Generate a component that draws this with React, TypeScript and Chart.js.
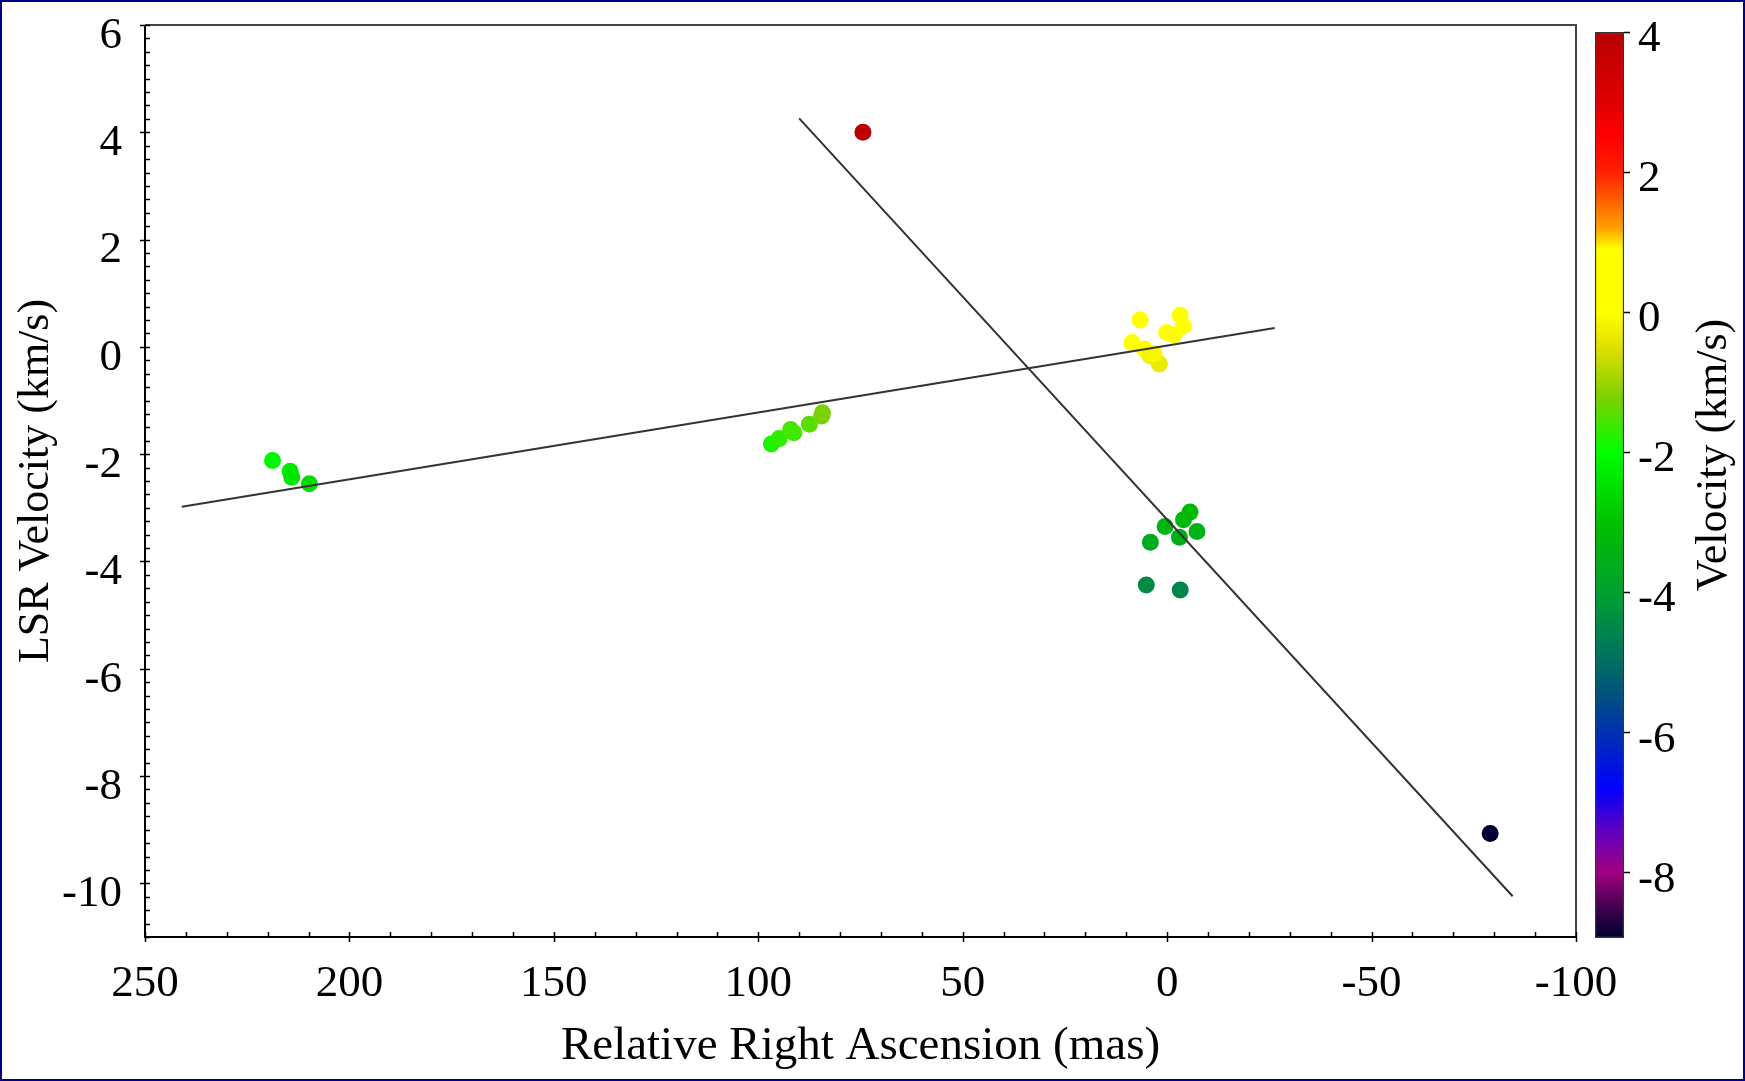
import React, { useEffect, useRef } from 'react';
import { Chart, registerables } from 'chart.js';

Chart.register(...registerables);

// ---------- data ----------
// Relative right ascension (mas) of each maser spot
const raOffset: number[] = [
  218.8, 214.5, 214.1, 209.8,
  96.8, 94.9, 92.1, 91.3, 87.5, 84.5, 84.3,
  74.4,
  6.6, -3.2, -4.0, 0.1, -1.7, 8.6, 5.6, 4.2, 1.9, 3.2,
  -5.6, -4.0, 0.5, -7.3, -3.0, 4.1, 5.1, -3.2,
  -79.0,
];
// LSR velocity (km/s) of each spot (also used for its colour)
const lsrVelocity: number[] = [
  -2.12, -2.32, -2.43, -2.55,
  -1.81, -1.71, -1.54, -1.60, -1.44, -1.29, -1.23,
  4.0,
  0.50, 0.59, 0.39, 0.27, 0.22, 0.08, -0.04, -0.17, -0.32, -0.13,
  -3.08, -3.22, -3.35, -3.44, -3.55, -3.64, -4.44, -4.53,
  -9.07,
];
// Fitted lines (end points)
const fitA_x: number[] = [241.0, -26.3];
const fitA_y: number[] = [-2.98, 0.35];
const fitB_x: number[] = [90.0, -84.5];
const fitB_y: number[] = [4.26, -10.24];

// Axis ticks
const xTickValues: number[] = [250, 200, 150, 100, 50, 0, -50, -100];
const yTickValues: number[] = [6, 4, 2, 0, -2, -4, -6, -8, -10];
const cbTickValues: number[] = [4, 2, 0, -2, -4, -6, -8];
const xRange: number[] = [-100, 250];
const yRange: number[] = [-11, 6];
const cbRange: number[] = [-8.93, 4];

// Colour map (velocity -> colour)
const cmapValues: number[] = [-8.93, -8.5, -8.0, -7.4, -6.8, -6.0, -5.5, -4.8, -4.0, -3.0, -2.0, -1.2, -0.5, 0.0, 0.9, 1.2, 1.6, 2.0, 2.5, 3.0, 4.0];
const cmapColors: string[] = ['#000030', '#400050', '#a00080', '#6000c0', '#0000ff', '#0030b0', '#005080', '#007858', '#00a030', '#00c000', '#00ff00', '#80d000', '#e0e000', '#ffff00', '#ffff00', '#ffa000', '#ff6000', '#ff2000', '#ff0000', '#e00000', '#b80000'];

// ---------- helpers ----------
const FONT = "'Liberation Serif', 'Times New Roman', Times, serif";

function hexToRgb(h: string): number[] {
  const n = parseInt(h.slice(1), 16);
  return [(n >> 16) & 255, (n >> 8) & 255, n & 255];
}

function colorFor(v: number): string {
  const last = cmapValues.length - 1;
  if (v <= cmapValues[0]) return cmapColors[0];
  if (v >= cmapValues[last]) return cmapColors[last];
  for (let i = 0; i < last; i++) {
    if (v <= cmapValues[i + 1]) {
      const t = (v - cmapValues[i]) / (cmapValues[i + 1] - cmapValues[i]);
      const a = hexToRgb(cmapColors[i]);
      const b = hexToRgb(cmapColors[i + 1]);
      const c = a.map((av, k) => Math.round(av + (b[k] - av) * t));
      return `rgb(${c[0]},${c[1]},${c[2]})`;
    }
  }
  return cmapColors[last];
}

const framePlugin = {
  id: 'frameTicks',
  afterDraw(chart: any) {
    const { ctx, chartArea: a, scales } = chart;
    const xs = scales.x;
    const ys = scales.y;
    ctx.save();
    ctx.lineWidth = 2;
    ctx.strokeStyle = '#444';
    ctx.beginPath();
    ctx.moveTo(a.left, a.top);
    ctx.lineTo(a.right, a.top);
    ctx.lineTo(a.right, a.bottom);
    ctx.stroke();
    ctx.strokeStyle = '#000';
    ctx.beginPath();
    ctx.moveTo(a.left, a.top);
    ctx.lineTo(a.left, a.bottom);
    ctx.lineTo(a.right, a.bottom);
    ctx.stroke();

    ctx.lineWidth = 1.5;
    ctx.beginPath();
    for (let v = xRange[0]; v <= xRange[1]; v += 10) {
      const px = Math.round(xs.getPixelForValue(v)) + 0.5;
      const major = v % 50 === 0;
      ctx.moveTo(px, a.bottom + (major ? 5 : 0));
      ctx.lineTo(px, a.bottom - 5);
    }
    const n = Math.round((yRange[1] - yRange[0]) / 0.25);
    for (let i = 0; i <= n; i++) {
      const v = yRange[0] + i * 0.25;
      const py = Math.round(ys.getPixelForValue(v)) + 0.5;
      const major = Number.isInteger(v) && v % 2 === 0;
      ctx.moveTo(a.left - (major ? 5 : 0), py);
      ctx.lineTo(a.left + 5, py);
    }
    ctx.stroke();
    ctx.restore();
  },
};

const cbTitlePlugin = {
  id: 'cbTitle',
  afterDraw(chart: any) {
    const { ctx } = chart;
    ctx.save();
    ctx.translate(134, 455);
    ctx.rotate(-Math.PI / 2);
    ctx.font = `44px ${FONT}`;
    ctx.fillStyle = '#000';
    ctx.textAlign = 'center';
    ctx.textBaseline = 'middle';
    ctx.fillText('Velocity (km/s)', 0, 0);
    ctx.restore();
  },
};

function zeroPad(s: any) {
  s.paddingTop = 0;
  s.paddingBottom = 0;
  s.paddingLeft = 0;
  s.paddingRight = 0;
}

export default function App() {
  const mainRef = useRef<HTMLCanvasElement>(null);
  const cbRef = useRef<HTMLCanvasElement>(null);

  useEffect(() => {
    document.body.style.margin = '0';
    document.body.style.overflow = 'hidden';

    const spots = raOffset.map((x, i) => ({ x, y: lsrVelocity[i] }));
    const spotColors = lsrVelocity.map((v) => colorFor(v));
    const lineA = fitA_x.map((x, i) => ({ x, y: fitA_y[i] }));
    const lineB = fitB_x.map((x, i) => ({ x, y: fitB_y[i] }));

    const main = new Chart(mainRef.current as HTMLCanvasElement, {
      type: 'scatter',
      data: {
        datasets: [
          { data: lineA, showLine: true, pointRadius: 0, borderColor: '#333', borderWidth: 2 } as any,
          { data: lineB, showLine: true, pointRadius: 0, borderColor: '#333', borderWidth: 2 } as any,
          {
            data: spots,
            pointRadius: 8.5,
            pointBackgroundColor: spotColors,
            pointBorderColor: spotColors,
            pointBorderWidth: 0,
          } as any,
        ],
      },
      options: {
        responsive: false,
        animation: false,
        layout: { padding: { left: 0, top: 25, right: 169, bottom: 0 } },
        plugins: { legend: { display: false }, tooltip: { enabled: false } },
        scales: {
          x: {
            type: 'linear',
            min: xRange[0],
            max: xRange[1],
            reverse: true,
            afterBuildTicks: (s: any) => { s.ticks = xTickValues.map((v) => ({ value: v })); },
            afterFit: (s: any) => { s.height = 144; zeroPad(s); },
            grid: { display: false },
            border: { display: false },
            ticks: { font: { family: FONT, size: 45, lineHeight: 1.2 }, color: '#000', padding: 12, maxRotation: 0, autoSkip: false },
            title: { display: true, text: 'Relative Right Ascension (mas)', color: '#000', font: { family: FONT, size: 47, lineHeight: 1.2 }, padding: { top: 0, bottom: 6 } },
          },
          y: {
            type: 'linear',
            min: yRange[0],
            max: yRange[1],
            afterBuildTicks: (s: any) => { s.ticks = yTickValues.map((v) => ({ value: v })); },
            afterFit: (s: any) => { s.width = 145; zeroPad(s); },
            grid: { display: false },
            border: { display: false },
            ticks: { font: { family: FONT, size: 45, lineHeight: 1 }, color: '#000', padding: 15, labelOffset: 11, autoSkip: false },
            title: { display: true, text: 'LSR Velocity (km/s)', color: '#000', font: { family: FONT, size: 44, lineHeight: 1.2 }, padding: { top: 10, bottom: 0 } },
          },
        },
      } as any,
      plugins: [framePlugin],
    });

    const cb = new Chart(cbRef.current as HTMLCanvasElement, {
      type: 'bar',
      data: {
        labels: [''],
        datasets: [
          {
            data: [[cbRange[0], cbRange[1]]],
            backgroundColor: (c: any) => {
              const area = c.chart.chartArea;
              if (!area) return '#ffffff';
              const g = c.chart.ctx.createLinearGradient(0, area.bottom, 0, area.top);
              cmapValues.forEach((v, i) => {
                const t = Math.min(1, Math.max(0, (v - cbRange[0]) / (cbRange[1] - cbRange[0])));
                g.addColorStop(t, cmapColors[i]);
              });
              return g;
            },
            borderColor: '#333',
            borderWidth: 1.5,
            borderSkipped: false,
            barPercentage: 1,
            categoryPercentage: 1,
          } as any,
        ],
      },
      options: {
        responsive: false,
        animation: false,
        layout: { padding: { left: 15, top: 32, right: 0, bottom: 143 } },
        plugins: { legend: { display: false }, tooltip: { enabled: false } },
        scales: {
          x: { display: false },
          y: {
            position: 'right',
            min: cbRange[0],
            max: cbRange[1],
            afterBuildTicks: (s: any) => { s.ticks = cbTickValues.map((v) => ({ value: v })); },
            afterFit: (s: any) => { s.width = 121; zeroPad(s); },
            grid: { drawOnChartArea: false, tickLength: 6, tickColor: '#000', tickWidth: 1.5 },
            border: { display: false },
            ticks: { font: { family: FONT, size: 45, lineHeight: 1 }, color: '#000', padding: 8, labelOffset: 7, autoSkip: false },
          },
        },
      } as any,
      plugins: [cbTitlePlugin],
    });

    return () => {
      main.destroy();
      cb.destroy();
    };
  }, []);

  return (
    <div style={{ position: 'relative', width: 1745, height: 1081, background: '#ffffff', overflow: 'hidden' }}>
      <canvas ref={mainRef} width={1745} height={1081} style={{ position: 'absolute', left: 0, top: 0 }} />
      <canvas ref={cbRef} width={165} height={1081} style={{ position: 'absolute', left: 1580, top: 0 }} />
      <div style={{ position: 'absolute', left: 0, top: 0, width: 1745, height: 1081, border: '2px solid #000080', boxSizing: 'border-box', pointerEvents: 'none' }} />
    </div>
  );
}
